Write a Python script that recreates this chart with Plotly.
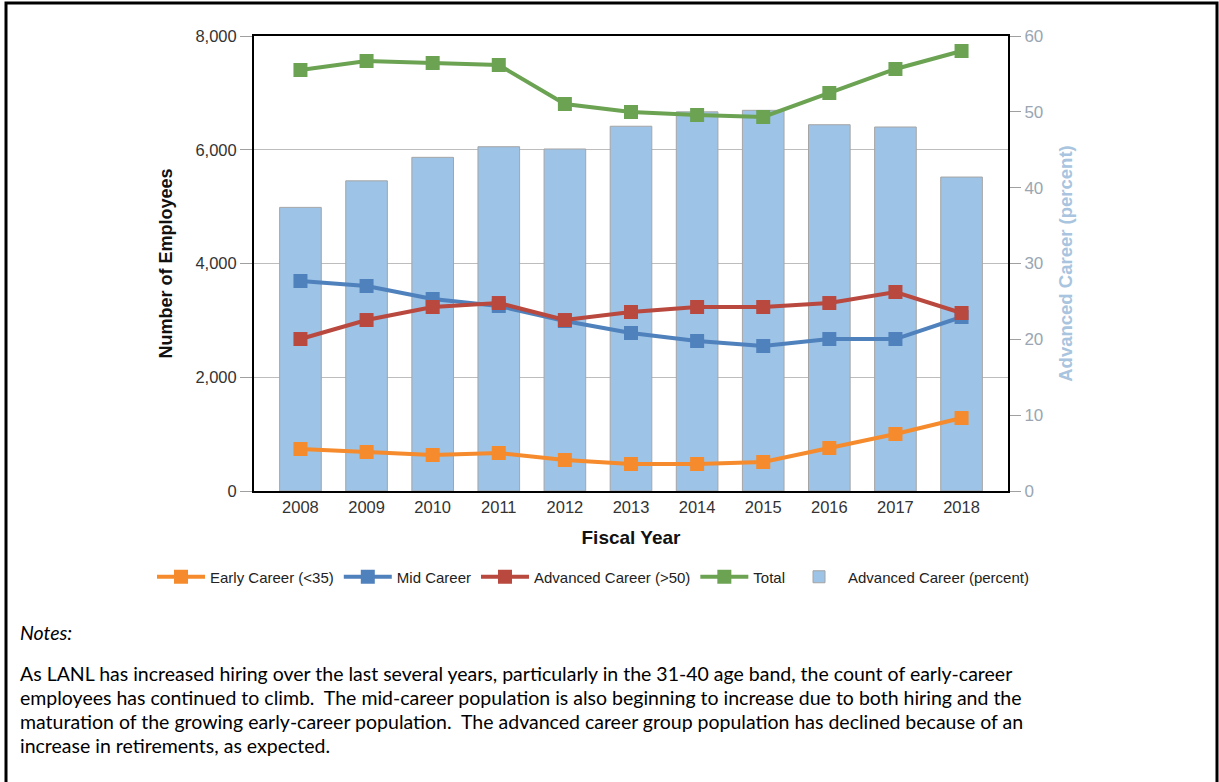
import plotly.graph_objects as go

# data
years = ['2008', '2009', '2010', '2011', '2012', '2013', '2014', '2015', '2016', '2017', '2018']
early = [738, 686, 633, 668, 545, 475, 475, 510, 756, 1002, 1283]
mid = [3692, 3604, 3376, 3253, 2989, 2778, 2637, 2549, 2672, 2672, 3059]
advanced = [2672, 3006, 3235, 3305, 3006, 3147, 3235, 3235, 3305, 3499, 3130]
total = [7402, 7560, 7525, 7490, 6804, 6664, 6611, 6576, 6998, 7420, 7736]
adv_pct = [37.4, 40.9, 44.0, 45.4, 45.1, 48.1, 50.0, 50.2, 48.3, 48.0, 41.4]

notes_title = 'Notes:'
notes_lines = [
    'As LANL has increased hiring over the last several years, particularly in the 31-40 age band, the count of early-career',
    'employees has continued to climb.  The mid-career population is also beginning to increase due to both hiring and the',
    'maturation of the growing early-career population.  The advanced career group population has declined because of an',
    'increase in retirements, as expected.',
]

W, H = 1219, 782
L, R, T, B = 254, 1008, 36, 491   # plot area in pixels


def px_x(x):
    return (x - L) / (R - L)


def px_y(y):
    return (B - y) / (B - T)


fig = go.Figure()

# bars on the primary (right-hand, percent) axis so that the lines sit on top
fig.add_trace(go.Bar(
    x=years, y=adv_pct, name='Advanced Career (percent)',
    marker=dict(color='#9DC3E6', line=dict(color='#A5A5A5', width=1)),
    yaxis='y', legendrank=5,
))

series = [
    ('Early Career (<35)', early, '#F58B2C'),
    ('Mid Career', mid, '#4F81BD'),
    ('Advanced Career (>50)', advanced, '#B9483F'),
    ('Total', total, '#6BA353'),
]
for i, (name, vals, col) in enumerate(series):
    fig.add_trace(go.Scatter(
        x=years, y=vals, name=name, mode='lines+markers',
        line=dict(color=col, width=4),
        marker=dict(symbol='square', size=14, color=col),
        yaxis='y2', legendrank=i + 1,
    ))

fig.update_layout(
    width=W, height=H,
    margin=dict(l=L, r=W - R, t=T, b=H - B),
    paper_bgcolor='white', plot_bgcolor='white',
    font=dict(family='Liberation Sans, Arial, sans-serif', size=14, color='#333333'),
    bargap=0.37,
    xaxis=dict(
        showline=True, linecolor='black', linewidth=2, mirror=True,
        ticks='', tickfont=dict(size=16.5, color='#333333'),
        title=dict(text='<b>Fiscal Year</b>', font=dict(size=19, color='#111111'), standoff=16),
    ),
    yaxis=dict(
        side='right', range=[0, 60], dtick=10, showgrid=False, zeroline=False,
        showline=True, linecolor='black', linewidth=2,
        ticks='outside', ticklen=11, tickcolor='#A0A0A0',
        tickfont=dict(size=17, color='#9AA6B2'),
        title=dict(text='<b>Advanced Career (percent)</b>', font=dict(size=18.5, color='#A8C4DE'), standoff=17),
    ),
    yaxis2=dict(
        side='left', overlaying='y', range=[0, 8000], dtick=2000,
        tickformat=',d', showgrid=True, gridcolor='#BDBDBD', gridwidth=1, zeroline=False,
        showline=True, linecolor='black', linewidth=2,
        ticks='outside', ticklen=12, tickcolor='#A0A0A0',
        tickfont=dict(size=16.5, color='#333333'),
        title=dict(text='<b>Number of Employees</b>', font=dict(size=18, color='#111111'), standoff=18),
    ),
    legend=dict(
        orientation='h', x=px_x(152), xanchor='left', y=px_y(577), yanchor='middle',
        font=dict(size=15, color='#222222'), itemwidth=48,
    ),
)

# outer frame around chart and notes
fig.add_shape(type='rect', xref='paper', yref='paper',
              x0=px_x(6), x1=px_x(1217), y0=px_y(790), y1=px_y(3),
              line=dict(color='black', width=3), fillcolor='rgba(0,0,0,0)', layer='above')

notes_font = dict(family='Lato, Open Sans, sans-serif', size=19.5, color='black')
fig.add_annotation(text='<i>' + notes_title + '</i>', xref='paper', yref='paper',
                   x=px_x(18), y=px_y(632), xanchor='left', yanchor='middle', showarrow=False,
                   font=notes_font)
for k, line in enumerate(notes_lines):
    fig.add_annotation(text=line, xref='paper', yref='paper',
                       x=px_x(18), y=px_y(673 + 24 * k), xanchor='left', yanchor='middle',
                       showarrow=False, font=notes_font)

fig.write_html('out.html', config={'displayModeBar': False},
               post_script="document.body.style.margin='0';document.body.style.overflow='hidden';")
